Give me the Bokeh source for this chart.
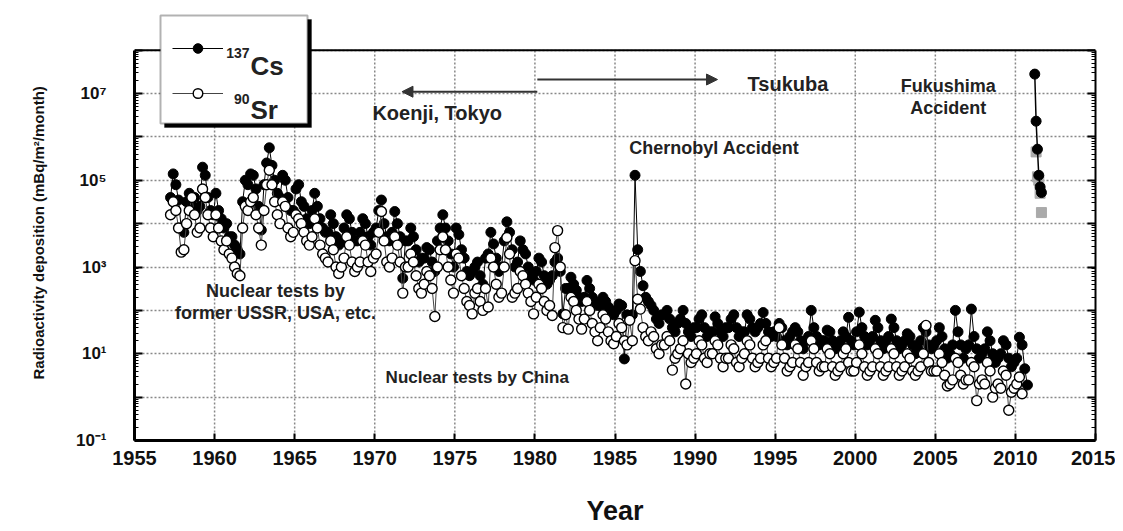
import numpy as np
from bokeh.plotting import figure
from bokeh.models import (FixedTicker, CustomJSTickFormatter, LogAxis, Label,
                          Arrow, NormalHead, Legend, LegendItem, BoxAnnotation, Range1d,
                          ColumnDataSource, Span)
from bokeh.embed import file_html
from bokeh.resources import INLINE

nan = float("nan")

# ---- 137Cs monthly deposition (mBq/m2/month), bimonthly samples: JF, MA, MJ, JA, SO, ND ----
cs_1957_1959 = [
    nan, 4.0e4, 1.4e5, 7.9e4, 3.5e4, 7.9e3,    # 1957
    6.3e3, 3.2e4, 5.0e4, 2.5e4, 4.0e4, 2.0e4,  # 1958
    2.5e4, 2.0e5, 1.3e5, 4.0e4, 2.0e4, 1.6e4,  # 1959
]
cs_1960s = [
    5.0e4, 2.0e4, 1.3e4, 7.9e3, 1.0e4, 5.0e3,  # 1960
    5.0e3, 3.2e3, 2.5e3, 2.0e3, 3.2e4, 1.0e5,  # 1961
    7.9e4, 1.4e5, 1.3e5, 6.3e4, 2.5e4, 7.1e3,  # 1962
    7.9e4, 2.5e5, 5.6e5, 2.2e5, 1.0e5, 5.0e4,  # 1963
    4.0e4, 1.3e5, 1.0e5, 4.0e4, 2.0e4, 2.0e4,  # 1964
    6.3e4, 7.9e4, 3.2e4, 2.5e4, 1.3e4, 1.0e4,  # 1965
    2.0e4, 5.0e4, 2.5e4, 1.3e4, 7.9e3, 6.3e3,  # 1966
    6.3e3, 1.6e4, 1.0e4, 5.0e3, 3.2e3, 4.0e3,  # 1967
    7.9e3, 1.6e4, 1.3e4, 6.3e3, 4.0e3, 4.0e3,  # 1968
    6.3e3, 1.3e4, 1.0e4, 5.0e3, 3.2e3, 6.3e3,  # 1969
]
cs_1970s = [
    7.9e3, 2.0e4, 3.5e4, 1.0e4, 5.0e3, 4.0e3,  # 1970
    6.3e3, 1.9e4, 1.0e4, 5.0e3, 550, 4.0e3,    # 1971
    4.0e3, 7.9e3, 5.0e3, 2.5e3, 1.3e3, 1.6e3,  # 1972
    1.6e3, 2.8e3, 2.5e3, 1.3e3, 790, 4.0e3,    # 1973
    7.9e3, 1.6e4, 7.9e3, 4.0e3, 2.0e3, 1.0e3,  # 1974
    7.9e3, 5.6e3, 2.5e3, 1.6e3, 790, 630,      # 1975
    790, 1.0e3, 1.3e3, 630, 400, 1.6e3,        # 1976
    2.0e3, 6.3e3, 3.4e3, 1.6e3, 790, 1.0e3,    # 1977
    4.0e3, 1.1e4, 6.3e3, 2.5e3, 1.0e3, 1.3e3,  # 1978
    4.0e3, 2.5e3, 2.0e3, 1.0e3, 630, 500,      # 1979
]
cs_1980s = [
    790, 1.6e3, 1.3e3, 630, 400, 500,          # 1980
    630, 1.3e3, 1.6e3, 790, 83, 320,           # 1981
    320, 580, 400, 290, 200, 160,              # 1982
    200, 490, 320, 200, 160, 130,              # 1983
    130, 200, 160, 120, 100, 79,               # 1984
    100, 140, 130, 7.6, 79, 63,                # 1985
    79, 1.3e5, 2.5e3, 790, 370, 200,           # 1986
    160, 130, 100, 63, 50, 79,                 # 1987
    79, 100, 63, 40, 32, 50,                   # 1988
    63, 100, 50, 32, 25, 40,                   # 1989
]
cs_1990s = [
    40, 63, 79, 40, 25, 32,                    # 1990
    32, 71, 50, 32, 25, 40,                    # 1991
    40, 63, 79, 40, 25, 32,                    # 1992
    32, 79, 63, 40, 32, 40,                    # 1993
    50, 89, 50, 32, 25, 32,                    # 1994
    25, 50, 40, 20, 16, 25,                    # 1995
    32, 40, 32, 20, 13, 20,                    # 1996
    25, 100, 40, 25, 16, 20,                   # 1997
    20, 35, 32, 20, 13, 16,                    # 1998
    20, 32, 25, 69, 20, 16,                    # 1999
]
cs_2000s = [
    32, 91, 40, 25, 16, 20,                    # 2000
    25, 59, 40, 20, 13, 20,                    # 2001
    25, 63, 40, 20, 13, 16,                    # 2002
    20, 29, 25, 16, 10, 13,                    # 2003
    20, 40, 32, 16, 13, 16,                    # 2004
    20, 40, 25, 13, 7.9, 10,                   # 2005
    16, 100, 32, 16, 7.9, 13,                  # 2006
    16, 107, 25, 13, 7.9, 10,                  # 2007
    13, 32, 20, 10, 6.3, 7.9,                  # 2008
    10, 20, 16, 7.9, 5.0, 6.3,                 # 2009
]
cs_2010 = [7.9, 24, 16, 4.5, 1.9, nan]

# ---- 90Sr, same sampling ----
sr_1957_1959 = [
    nan, 1.6e4, 3.2e4, 2.0e4, 7.9e3, 2.2e3,    # 1957
    2.5e3, 1.0e4, 2.0e4, 4.0e4, 1.6e4, 6.3e3,  # 1958
    7.9e3, 6.3e4, 4.0e4, 1.6e4, 7.9e3, 5.0e3,  # 1959
]
sr_1960s = [
    1.6e4, 7.9e3, 4.0e3, 2.5e3, 4.0e3, 2.0e3,  # 1960
    1.6e3, 1.0e3, 710, 630, 7.9e3, 2.5e4,      # 1961
    2.0e4, 3.2e4, 4.0e4, 1.6e4, 7.9e3, 3.2e3,  # 1962
    2.0e4, 7.9e4, 1.7e5, 7.9e4, 3.2e4, 1.6e4,  # 1963
    1.0e4, 3.2e4, 2.5e4, 7.9e3, 5.0e3, 6.3e3,  # 1964
    1.6e4, 1.3e4, 1.0e4, 6.3e3, 4.0e3, 3.2e3,  # 1965
    5.0e3, 1.3e4, 7.9e3, 3.2e3, 2.0e3, 1.6e3,  # 1966
    1.3e3, 4.0e3, 2.5e3, 1.0e3, 710, 1.0e3,    # 1967
    1.6e3, 5.0e3, 3.2e3, 1.3e3, 790, 1.0e3,    # 1968
    1.3e3, 4.0e3, 3.2e3, 1.3e3, 790, 1.6e3,    # 1969
]
sr_1970s = [
    2.0e3, 6.3e3, 1.9e4, 4.0e3, 1.3e3, 1.0e3,  # 1970
    1.6e3, 5.0e3, 3.2e3, 1.3e3, 250, 1.0e3,    # 1971
    1.0e3, 2.0e3, 1.3e3, 630, 320, 250,        # 1972
    400, 790, 630, 320, 72, 1.0e3,             # 1973
    2.5e3, 5.0e3, 2.5e3, 1.0e3, 500, 250,      # 1974
    2.0e3, 1.6e3, 630, 320, 160, 130,          # 1975
    83, 250, 320, 160, 100, 320,               # 1976
    120, 1.6e3, 1.0e3, 400, 200, 250,          # 1977
    1.0e3, 4.8e3, 2.0e3, 200, 250, 320,        # 1978
    790, 630, 400, 250, 160, 83,               # 1979
]
sr_1980s = [
    200, 400, 320, 160, 100, 130,              # 1980
    76, 2.8e3, 6.9e3, 1.0e3, 40, 79,           # 1981
    37, 200, 160, 100, 63, 37,                 # 1982
    63, 160, 100, 50, 32, 20,                  # 1983
    40, 79, 63, 32, 20, 17,                    # 1984
    25, 50, 40, 20, 16, 59,                    # 1985
    20, 1.4e3, 180, 107, 40, 25,               # 1986
    20, 32, 25, 13, 10, 16,                    # 1987
    16, 25, 20, 4.2, 7.9, 10,                  # 1988
    13, 20, 2.0, 10, 6.3, 7.9,                 # 1989
]
sr_1990s = [
    10, 20, 16, 7.9, 6.3, 10,                  # 1990
    10, 20, 16, 7.9, 5.0, 7.9,                 # 1991
    7.9, 16, 13, 6.3, 5.0, 7.9,                # 1992
    10, 20, 16, 7.9, 5.0, 6.3,                 # 1993
    7.9, 16, 20, 7.9, 5.0, 6.3,                # 1994
    7.9, 40, 16, 7.9, 4.0, 5.0,                # 1995
    6.3, 16, 13, 6.3, 3.2, 5.0,                # 1996
    6.3, 20, 13, 6.3, 4.0, 5.0,                # 1997
    5.0, 13, 10, 5.0, 3.2, 4.0,                # 1998
    5.0, 10, 13, 6.3, 4.0, 4.0,                # 1999
]
sr_2000s = [
    6.3, 16, 10, 5.0, 3.2, 4.0,                # 2000
    5.0, 13, 10, 5.0, 3.2, 4.0,                # 2001
    5.0, 13, 10, 5.0, 3.2, 4.0,                # 2002
    5.0, 10, 7.9, 4.0, 3.2, 4.0,               # 2003
    5.0, 10, 45, 6.3, 4.0, 4.0,                # 2004
    4.0, 10, 6.3, 3.2, 1.8, 2.0,               # 2005
    2.5, 7.9, 6.3, 3.2, 2.0, 2.5,              # 2006
    2.5, 6.3, 5.0, 0.83, 2.0, 2.5,             # 2007
    2.0, 6.3, 4.0, 1.0, 1.6, 2.0,              # 2008
    1.6, 4.0, 3.2, 0.5, 1.3, 1.6,              # 2009
]
sr_2010 = [2.0, 2.9, 1.2, nan, nan, nan]

# ---- Fukushima accident, 2011 (monthly, Mar-Aug) ----
fk_months = [3, 4, 5, 6, 7, 8]
fk_cs = [2.8e7, 2.3e6, 5.2e5, 1.3e5, 7.0e4, 5.2e4]
fk_grey_months = [4, 5, 6, 7, 8]
fk_grey = [4.5e5, 1.2e5, 1.0e5, 5.0e4, 1.8e4]

x_ticks = list(range(1955, 2016, 5))
decades = list(range(-1, 9))

FONT = "Liberation Sans"

# layout (page pixels)
FR_LEFT, FR_RIGHT, FR_TOP, FR_BOTTOM = 134, 1095, 8, 440
DECADE_PX = 43.375
PX_PER_YEAR = (FR_RIGHT - FR_LEFT) / 60.0
Y_TOP = 10 ** (-1 + (FR_BOTTOM - FR_TOP) / DECADE_PX)


def px_x(px):
    return 1955 + (px - FR_LEFT) / PX_PER_YEAR


def px_y(py):
    return 10 ** ((FR_BOTTOM - py) / DECADE_PX - 1)


def bimonthly_times(start_year, n):
    return [start_year + i // 6 + (2 * (i % 6) + 1) / 12 for i in range(n)]


cs_vals = cs_1957_1959 + cs_1960s + cs_1970s + cs_1980s + cs_1990s + cs_2000s + cs_2010
sr_vals = sr_1957_1959 + sr_1960s + sr_1970s + sr_1980s + sr_1990s + sr_2000s + sr_2010
cs_t = bimonthly_times(1957, len(cs_vals))
sr_t = bimonthly_times(1957, len(sr_vals))

cs_src = ColumnDataSource(dict(t=np.array(cs_t), v=np.array(cs_vals, dtype=float)))
sr_src = ColumnDataSource(dict(t=np.array(sr_t), v=np.array(sr_vals, dtype=float)))
fk_src = ColumnDataSource(dict(t=[2011 + (m - 0.5) / 12 for m in fk_months], v=fk_cs))
fg_src = ColumnDataSource(dict(t=[2011 + (m - 0.5) / 12 for m in fk_grey_months], v=fk_grey))

W, H = 1115, 528
p = figure(width=W, height=H, x_range=Range1d(1955, 2015), y_range=Range1d(0.1, Y_TOP),
           y_axis_type="log", output_backend="svg", toolbar_location=None,
           min_border_left=FR_LEFT, min_border_right=W - FR_RIGHT,
           min_border_top=FR_TOP, min_border_bottom=H - FR_BOTTOM,
           background_fill_color="white", border_fill_color="white")

p.outline_line_color = None

# grids
p.xgrid.visible = False
p.ygrid.grid_line_color = "#888888"
p.ygrid.grid_line_dash = "2 2"
p.ygrid.grid_line_width = 1.5
inner = x_ticks[1:-1]
p.segment(x0=inner, y0=[0.1] * len(inner), x1=inner, y1=[1e8] * len(inner),
          line_color="#888888", line_dash="2 2", line_width=1.5)

y_major = [10.0 ** e for e in decades]
y_minor = [k * 10.0 ** e for e in decades[:-1] for k in range(2, 10)]

sup_code = """
const e = Math.round(Math.log10(tick));
if (Math.abs(e) % 2 == 0) { return ""; }
const s = {"-":"⁻","0":"⁰","1":"¹","2":"²","3":"³","4":"⁴","5":"⁵","6":"⁶","7":"⁷","8":"⁸","9":"⁹"};
return "10" + String(e).split("").map(c => s[c]).join("");
"""

xa = p.xaxis[0]
xa.ticker = FixedTicker(ticks=x_ticks)
xa.axis_label = "Year"
xa.axis_label_text_font = FONT
xa.axis_label_text_font_style = "bold"
xa.axis_label_text_font_size = "27px"
xa.axis_label_text_color = "#111111"
xa.axis_label_standoff = 28
xa.major_label_text_font = FONT
xa.major_label_text_font_style = "bold"
xa.major_label_text_font_size = "20px"
xa.major_label_text_color = "#111111"
xa.major_label_standoff = 10
xa.major_tick_in = 7
xa.major_tick_out = 0
xa.minor_tick_line_color = None
xa.axis_line_width = 3
xa.major_tick_line_width = 2

ya = p.yaxis[0]
ya.ticker = FixedTicker(ticks=y_major, minor_ticks=y_minor)
ya.bounds = (0.1, 1e8)
ya.formatter = CustomJSTickFormatter(code=sup_code)
ya.axis_label = "Radioactivity deposition (mBq/m²/month)" + "\u00a0" * 4
ya.axis_label_text_font = FONT
ya.axis_label_text_font_style = "bold"
ya.axis_label_text_font_size = "15px"
ya.axis_label_text_color = "#111111"
ya.axis_label_standoff = 26
ya.major_label_text_font = FONT
ya.major_label_text_font_style = "bold"
ya.major_label_text_font_size = "17px"
ya.major_label_text_color = "#111111"
ya.major_label_standoff = 28
ya.major_tick_in = 8
ya.major_tick_out = 0
ya.minor_tick_in = 4
ya.minor_tick_out = 0
ya.axis_line_width = 3
ya.major_tick_line_width = 2

empty = CustomJSTickFormatter(code="return '';")
ra = LogAxis(ticker=FixedTicker(ticks=y_major, minor_ticks=y_minor), formatter=empty,
             bounds=(0.1, 1e8),
             major_tick_in=8, major_tick_out=0, minor_tick_in=4, minor_tick_out=0,
             axis_line_width=2, major_tick_line_width=2)
p.add_layout(ra, "right")

# top border of the plotting box
p.add_layout(Span(location=1e8, dimension="width", line_color="black", line_width=2))

# data
cs_line = p.line("t", "v", source=cs_src, line_color="black", line_width=1)
cs_pts = p.scatter("t", "v", source=cs_src, marker="circle", size=10,
                   fill_color="black", line_color="black", line_width=1)
sr_line = p.line("t", "v", source=sr_src, line_color="#444444", line_width=1)
sr_pts = p.scatter("t", "v", source=sr_src, marker="circle", size=10,
                   fill_color="white", line_color="black", line_width=1.4)
p.scatter("t", "v", source=fg_src, marker="square", size=10,
          fill_color="#aaaaaa", line_color="#aaaaaa")
p.line("t", "v", source=fk_src, line_color="black", line_width=1.5)
p.scatter("t", "v", source=fk_src, marker="circle", size=10,
          fill_color="black", line_color="black")


# annotations
def add_label(x, y, text, size, align="center", baseline="middle", level="annotation"):
    p.add_layout(Label(x=x, y=y, text=text, text_align=align, text_baseline=baseline,
                       text_font=FONT, text_font_style="bold", text_font_size=size,
                       text_color="#222222", level=level))


add_label(1973.9, 3.5e6, "Koenji, Tokyo", "20px")
add_label(1995.8, 1.7e7, "Tsukuba", "20px")
add_label(2005.8, 1.5e7, "Fukushima", "18px")
add_label(2005.8, 4.7e6, "Accident", "18px")
add_label(1991.2, 5.6e5, "Chernobyl Accident", "18px")
add_label(1963.8, 282, "Nuclear tests by", "18px")
add_label(1963.8, 89, "former USSR, USA, etc.", "18px")
add_label(1976.4, 2.8, "Nuclear tests by China", "17px")

p.add_layout(Arrow(end=NormalHead(size=11, fill_color="#333333", line_color="#333333"),
                   x_start=1980.15, y_start=1.1e7, x_end=1971.7, y_end=1.1e7,
                   line_width=2, line_color="#333333"))
p.add_layout(Arrow(end=NormalHead(size=11, fill_color="#333333", line_color="#333333"),
                   x_start=1980.15, y_start=2.1e7, x_end=1991.4, y_end=2.1e7,
                   line_width=2, line_color="#333333"))

# legend box (page px 160-307 x 15-123) with a drop shadow
LG_L, LG_T, LG_W, LG_H = 160, 15, 147, 108
shadow = BoxAnnotation(left=px_x(LG_L + 4), right=px_x(LG_L + LG_W + 4),
                       top=px_y(LG_T + 4), bottom=px_y(LG_T + LG_H + 4),
                       fill_color="black", fill_alpha=1, line_color="black")
p.add_layout(shadow)
box = BoxAnnotation(left=px_x(LG_L), right=px_x(LG_L + LG_W),
                    top=px_y(LG_T), bottom=px_y(LG_T + LG_H),
                    fill_color="white", fill_alpha=1, line_color="black", line_width=2)
p.add_layout(box)

legend = Legend(items=[LegendItem(label="Cs", renderers=[cs_line, cs_pts]),
                       LegendItem(label="Sr", renderers=[sr_line, sr_pts])],
                location=(172 - FR_LEFT, FR_BOTTOM - 113), orientation="vertical",
                background_fill_alpha=0, border_line_color=None,
                label_text_font=FONT, label_text_font_style="bold",
                label_text_font_size="24px", label_text_alpha=0,
                glyph_width=51, glyph_height=24, label_height=40, label_width=45,
                label_standoff=27, padding=12, spacing=5, margin=0)
p.add_layout(legend)

# legend texts with superscript mass numbers
add_label(px_x(250), px_y(65), "Cs", "26px", align="left", baseline="alphabetic", level="overlay")
add_label(px_x(249), px_y(52), "137", "14px", align="right", baseline="alphabetic", level="overlay")
add_label(px_x(250), px_y(109), "Sr", "26px", align="left", baseline="alphabetic", level="overlay")
add_label(px_x(249), px_y(98), "90", "14px", align="right", baseline="alphabetic", level="overlay")

open("out.html", "w").write(file_html(p, INLINE))
